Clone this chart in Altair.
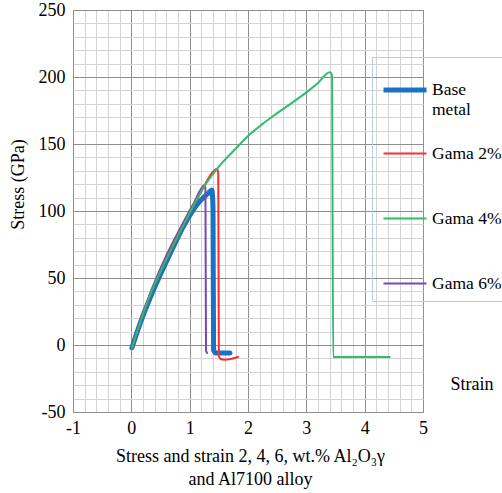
import altair as alt
import pandas as pd

# Series definitions: strain (x) and stress (y) for each material
series_names = ["Base metal", "Gama 2%", "Gama 4%", "Gama 6%"]
series_colors = ["#1a72c6", "#ff2b2b", "#2dbd6c", "#7c46b4"]
series_widths = [5, 2, 2, 2]

base_x = [0.01, 0.15, 0.35, 0.63, 0.95, 1.15, 1.32, 1.38, 1.40, 1.41, 1.45, 1.69]
base_y = [-2, 16, 38, 65, 93, 106, 113.4, 115.7, 103, -4, -6, -6]

g2_x = [0.01, 0.3, 0.6, 0.9, 1.23, 1.35, 1.47, 1.49, 1.50, 1.53, 1.6, 1.83]
g2_y = [-2, 35, 64, 90, 117, 126.5, 131.5, 128, -8, -10.5, -11, -9]

g4_x = [0.01, 0.3, 0.6, 0.9, 1.23, 1.57, 1.8, 2.0, 2.25, 2.5, 3.0, 3.2, 3.4, 3.44, 3.46, 4.43]
g4_y = [-2, 35, 64, 90, 117, 136.6, 147, 156, 165, 173, 188.5, 195.5, 203.5, 201.5, -9, -9]

g6_x = [0.01, 0.3, 0.56, 0.85, 1.06, 1.26, 1.27, 1.28, 1.30]
g6_y = [-2, 36, 63, 88, 105, 119.4, 116, -4, -6]

series_data = {
    "Base metal": (base_x, base_y),
    "Gama 2%": (g2_x, g2_y),
    "Gama 4%": (g4_x, g4_y),
    "Gama 6%": (g6_x, g6_y),
}

rows = []
for name, (xs, ys) in series_data.items():
    for i, (sx, sy) in enumerate(zip(xs, ys)):
        rows.append({"series": name, "strain": sx, "stress": sy, "idx": i})
df = pd.DataFrame(rows)

# Grid positions: minor every 0.2 strain / 10 stress, major every 1 / 50
x_grid = [round(-1 + 0.2 * i, 1) for i in range(31)]
y_grid = list(range(-50, 251, 10))

FONT = "Liberation Serif"
MINOR = "#d4d4d4"
MAJOR = "#8f8f8f"

x_axis = alt.Axis(
    values=x_grid,
    grid=True,
    gridColor={"condition": {"test": "abs(datum.value - round(datum.value)) < 0.001", "value": MAJOR}, "value": MINOR},
    labelExpr="abs(datum.value - round(datum.value)) < 0.001 ? '' + round(datum.value) : ''",
    ticks=False,
    domain=False,
    labelOverlap=False,
    labelFlush=False,
    labelFont=FONT,
    labelFontSize=18,
    labelColor="black",
    labelPadding=7,
    title=["Stress and strain 2, 4, 6, wt.% Al\u2082O\u2083\u03b3", "and Al7100 alloy"],
    titleFont=FONT,
    titleFontSize=18,
    titleFontWeight="normal",
    titleColor="black",
    titleX=177,
    titleY=35,
    titleBaseline="top",
    titleLineHeight=23,
)

y_axis = alt.Axis(
    values=y_grid,
    grid=True,
    gridColor={"condition": {"test": "datum.value % 50 === 0", "value": MAJOR}, "value": MINOR},
    labelExpr="datum.value % 50 === 0 ? '' + datum.value : ''",
    ticks=False,
    domain=False,
    labelOverlap=False,
    labelFlush=False,
    labelFont=FONT,
    labelFontSize=18,
    labelColor="black",
    labelPadding=8,
    title="Stress (GPa)",
    titleFont=FONT,
    titleFontSize=18,
    titleFontWeight="normal",
    titleColor="black",
    titleX=-55,
    titleY=174,
    titleBaseline="middle",
)

legend = alt.Legend(
    title=None,
    orient="none",
    legendX=299,
    legendY=47,
    symbolType="stroke",
    symbolSize=1849,
    labelFont=FONT,
    labelFontSize=17.5,
    labelColor="black",
    labelOffset=3,
    labelLimit=300,
    padding=9,
    strokeColor="#b7caef",
    gridAlign="all",
    rowPadding=13,
    labelExpr="datum.label == 'Base metal' ? ['Base', 'metal'] : datum.label",
)

x_enc = alt.X("strain:Q", scale=alt.Scale(domain=[-1, 5], nice=False, zero=False), axis=x_axis)
y_enc = alt.Y("stress:Q", scale=alt.Scale(domain=[-50, 250], nice=False, zero=False), axis=y_axis)
color_enc = alt.Color("series:N", scale=alt.Scale(domain=series_names, range=series_colors), legend=legend)
width_enc = alt.StrokeWidth(
    "series:N",
    scale=alt.Scale(type="ordinal", domain=series_names, range=series_widths),
    legend=legend,
)

draw_order = ["Base metal", "Gama 6%", "Gama 2%", "Gama 4%"]
layers = []
for name in draw_order:
    layers.append(
        alt.Chart(df[df["series"] == name])
        .mark_line(strokeCap="round", strokeJoin="round", interpolate="monotone")
        .encode(x=x_enc, y=y_enc, color=color_enc, strokeWidth=width_enc, order="idx:Q")
    )

strain_label = (
    alt.Chart(pd.DataFrame({"label": ["Strain"]}))
    .mark_text(font=FONT, fontSize=18, color="black", align="center", baseline="middle")
    .encode(x=alt.value(399), y=alt.value(375), text="label:N")
)

chart = (
    alt.layer(*layers, strain_label)
    .properties(
        width=350,
        height=402,
        autosize=alt.AutoSizeParams(type="none"),
        padding={"left": 73, "top": 10, "right": 79, "bottom": 81},
        background="white",
    )
    .configure_view(stroke=MAJOR, strokeWidth=1)
)

chart.save("out.html", embed_options={"renderer": "svg", "actions": False})
